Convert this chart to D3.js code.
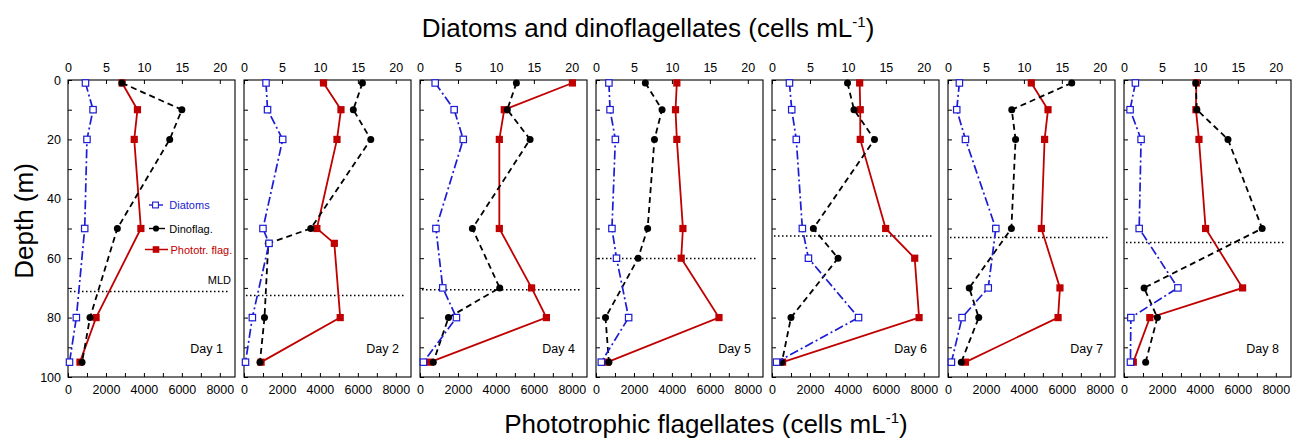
<!DOCTYPE html>
<html><head><meta charset="utf-8">
<script src="https://cdn.jsdelivr.net/npm/d3@7"></script>
<style>
html,body{margin:0;padding:0;background:#fff;}
svg{display:block;font-family:"Liberation Sans",Arial,Helvetica,sans-serif;}
</style></head>
<body>
<svg id="chart" width="1304" height="439"></svg>
<script>
// ---- data ----
const dayLabels = ["Day 1","Day 2","Day 4","Day 5","Day 6","Day 7","Day 8"];
const depths = [
  [1,10,20,50,80,95],
  [1,10,20,50,55,80,95],
  [1,10,20,50,70,80,95],
  [1,10,20,50,60,80,95],
  [1,10,20,50,60,80,95],
  [1,10,20,50,70,80,95],
  [1,10,20,50,70,80,95]
];
// cells mL-1 (top axis)
const diatoms = [
  [2.3,3.3,2.5,2.2,1.1,0.2],
  [2.9,3.1,5.1,2.5,3.3,1.1,0.2],
  [2.0,4.5,5.7,2.1,3.0,4.8,0.45],
  [1.7,1.85,2.55,2.1,2.7,4.3,0.7],
  [2.3,2.6,3.2,4.0,4.8,11.4,0.6],
  [1.5,1.15,2.3,6.3,5.3,1.85,0.45],
  [1.5,0.8,2.25,2.0,7.1,0.9,0.85]
];
const dinoflag = [
  [7.1,15.0,13.4,6.5,2.9,1.85],
  [15.6,14.4,16.7,8.8,3.2,2.7,2.1],
  [12.7,11.5,14.5,6.9,10.5,3.75,1.75],
  [6.5,8.7,7.7,6.8,5.55,1.25,1.7],
  [9.95,10.8,13.5,5.45,8.7,2.5,1.3],
  [16.3,8.4,8.9,8.35,2.8,4.05,1.75],
  [9.45,9.6,13.7,18.2,2.65,4.4,2.85]
];
// cells mL-1 (bottom axis)
const phototr = [
  [2850,3660,3490,3840,1480,630],
  [4190,5110,4900,3840,4760,5070,900],
  [8030,4440,4180,4180,5880,6660,530],
  [4260,4190,4260,4580,4490,6480,600],
  [4620,4650,4650,5990,7520,7750,560],
  [4390,5270,5090,4920,5900,5800,920],
  [3810,3790,3950,4300,6250,1360,490]
];
const mldDepth = [71.2,72.6,70.6,60.1,52.5,53.0,54.7];
const topTicks = [0,5,10,15,20];
const bottomTicks = [0,1000,2000,3000,4000,5000,6000,7000,8000];
const bottomTickLabels = [0,2000,4000,6000,8000];
const depthTicks = [0,10,20,30,40,50,60,70,80,90,100];
const depthTickLabels = [0,20,40,60,80,100];
const legendItems = ["Diatoms","Dinoflag.","Phototr. flag."];

// ---- layout ----
const svg = d3.select("#chart");
const P0 = 68, STEP = 176, PW = 167, TOP = 80, BOT = 377;
const BLUE = "#1c1cd4", RED = "#c00000", BLACK = "#000";
const y = d3.scaleLinear().domain([0,100]).range([TOP,BOT]);

dayLabels.forEach((day, i) => {
  const L = P0 + i*STEP;
  const g = svg.append("g");
  const xt = d3.scaleLinear().domain([0,22]).range([L, L+PW]);
  const xb = d3.scaleLinear().domain([0,8800]).range([L, L+PW]);

  // axes (inward ticks)
  const topAxis = d3.axisTop(xt).tickValues(topTicks).tickSize(-4).tickPadding(8).tickFormat(d3.format("d"));
  const ta = g.append("g").attr("transform",`translate(0,${TOP})`).call(topAxis);
  const botAxis = d3.axisBottom(xb).tickValues(bottomTicks).tickSize(-4).tickPadding(8)
      .tickFormat(d => bottomTickLabels.includes(d) ? d : "");
  const ba = g.append("g").attr("transform",`translate(0,${BOT})`).call(botAxis);
  const leftAxis = d3.axisLeft(y).tickValues(depthTicks).tickSize(-4).tickPadding(7)
      .tickFormat(d => (i===0 && depthTickLabels.includes(d)) ? d : "");
  const la = g.append("g").attr("transform",`translate(${L},0)`).call(leftAxis);
  [ta,ba,la].forEach(a => {
    a.select(".domain").remove();
    a.selectAll("text").attr("font-size",12.5).attr("font-family","Liberation Sans, Arial, sans-serif").attr("fill","#000");
    a.selectAll("line").attr("stroke","#000").attr("stroke-width",1);
  });
  // frame
  g.append("rect").attr("x",L).attr("y",TOP).attr("width",PW).attr("height",BOT-TOP)
    .attr("fill","none").attr("stroke","#000").attr("stroke-width",1.1);

  // MLD dotted line
  g.append("line").attr("x1",L+2).attr("x2",L+PW-6).attr("y1",y(mldDepth[i])).attr("y2",y(mldDepth[i]))
    .attr("stroke","#000").attr("stroke-width",1.5).attr("stroke-dasharray","1.5,2.5");

  const dep = depths[i];
  const lineT = d3.line().x(d=>xt(d[0])).y(d=>y(d[1]));
  const lineB = d3.line().x(d=>xb(d[0])).y(d=>y(d[1]));
  const dia = diatoms[i].map((v,k)=>[v,dep[k]]);
  const din = dinoflag[i].map((v,k)=>[v,dep[k]]);
  const pho = phototr[i].map((v,k)=>[v,dep[k]]);

  // phototrophic flagellates (solid red)
  g.append("path").attr("d",lineB(pho)).attr("fill","none").attr("stroke",RED).attr("stroke-width",1.8);
  g.selectAll(null).data(pho).enter().append("rect")
    .attr("x",d=>xb(d[0])-3.6).attr("y",d=>y(d[1])-3.6).attr("width",7.2).attr("height",7.2).attr("fill",RED);
  // dinoflagellates (black dashed)
  g.append("path").attr("d",lineT(din)).attr("fill","none").attr("stroke",BLACK).attr("stroke-width",1.8).attr("stroke-dasharray","6,4");
  g.selectAll(null).data(din).enter().append("circle")
    .attr("cx",d=>xt(d[0])).attr("cy",d=>y(d[1])).attr("r",3.5).attr("fill",BLACK);
  // diatoms (blue dash-dot)
  g.append("path").attr("d",lineT(dia)).attr("fill","none").attr("stroke",BLUE).attr("stroke-width",1.7).attr("stroke-dasharray","9,3,2,3");
  g.selectAll(null).data(dia).enter().append("rect")
    .attr("x",d=>xt(d[0])-3.2).attr("y",d=>y(d[1])-3.2).attr("width",6.4).attr("height",6.4)
    .attr("fill","#fff").attr("stroke",BLUE).attr("stroke-width",1.2);

  // day label
  g.append("text").attr("x",L+PW-12).attr("y",353).attr("text-anchor","end")
    .attr("font-size",12.5).text(day);

  if (i===0) {
    g.append("text").attr("x",L+PW-4).attr("y",284).attr("text-anchor","end").attr("font-size",11).text("MLD");
    // legend
    const ly = [205,228.5,249.5];
    const lc = [BLUE,BLACK,RED];
    svg.append("line").attr("x1",149).attr("x2",163).attr("y1",ly[0]).attr("y2",ly[0]).attr("stroke",BLUE).attr("stroke-width",1.4);
    svg.append("rect").attr("x",152.6).attr("y",ly[0]-2.9).attr("width",5.8).attr("height",5.8).attr("fill","#fff").attr("stroke",BLUE).attr("stroke-width",1.1);
    svg.append("line").attr("x1",149).attr("x2",165).attr("y1",ly[1]).attr("y2",ly[1]).attr("stroke",BLACK).attr("stroke-width",1.4);
    svg.append("circle").attr("cx",156).attr("cy",ly[1]).attr("r",3.1).attr("fill",BLACK);
    svg.append("line").attr("x1",145).attr("x2",168).attr("y1",ly[2]).attr("y2",ly[2]).attr("stroke",RED).attr("stroke-width",1.5);
    svg.append("rect").attr("x",152.7).attr("y",ly[2]-3.3).attr("width",6.6).attr("height",6.6).attr("fill",RED);
    legendItems.forEach((t,k)=>{
      svg.append("text").attr("x",k===2?170.5:169.3).attr("y",ly[k]+4).attr("font-size",11).attr("fill",lc[k]).text(t);
    });
  }
});

// axis titles
const t1 = svg.append("text").attr("x",648).attr("y",37).attr("text-anchor","middle").attr("font-size",26);
t1.append("tspan").text("Diatoms and dinoflagellates (cells mL");
t1.append("tspan").attr("dy",-10).attr("font-size",15).text("-1");
t1.append("tspan").attr("dy",10).text(")");
const t2 = svg.append("text").attr("x",706).attr("y",433).attr("text-anchor","middle").attr("font-size",26);
t2.append("tspan").text("Phototrophic flagellates (cells mL");
t2.append("tspan").attr("dy",-10).attr("font-size",15).text("-1");
t2.append("tspan").attr("dy",10).text(")");
svg.append("text").attr("transform","translate(33,221) rotate(-90)").attr("text-anchor","middle")
  .attr("font-size",26).text("Depth (m)");
</script>
</body></html>
